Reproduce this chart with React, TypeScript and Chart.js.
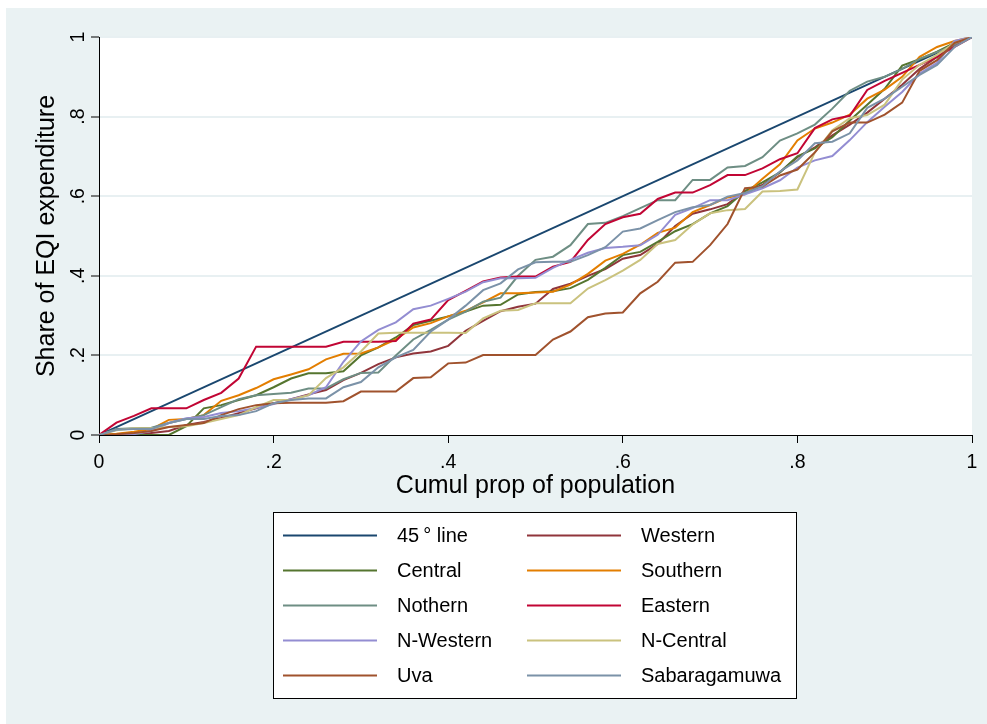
import { useEffect, useRef } from "react";
import { Chart, registerables } from "chart.js";

Chart.register(...registerables);

// Cumulative proportion of population (x grid shared by every regional curve)
const popShare = [
  0, 0.02, 0.04, 0.06, 0.08, 0.1, 0.12, 0.14, 0.16, 0.18,
  0.2, 0.22, 0.24, 0.26, 0.28, 0.3, 0.32, 0.34, 0.36, 0.38,
  0.4, 0.42, 0.44, 0.46, 0.48, 0.5, 0.52, 0.54, 0.56, 0.58,
  0.6, 0.62, 0.64, 0.66, 0.68, 0.7, 0.72, 0.74, 0.76, 0.78,
  0.8, 0.82, 0.84, 0.86, 0.88, 0.9, 0.92, 0.94, 0.96, 0.98, 1,
];

// Line of equality
const equalityX = [0, 1];
const equalityY = [0, 1];

// Cumulative share of EQI expenditure by province
const western = [
  0, 0, 0, 0.005, 0.01, 0.025, 0.033, 0.043, 0.055, 0.067,
  0.08, 0.09, 0.102, 0.113, 0.138, 0.156, 0.178, 0.195, 0.205, 0.21,
  0.224, 0.262, 0.287, 0.311, 0.322, 0.33, 0.367, 0.38, 0.4, 0.417,
  0.443, 0.452, 0.48, 0.525, 0.556, 0.567, 0.58, 0.613, 0.628, 0.66,
  0.698, 0.723, 0.753, 0.78, 0.81, 0.845, 0.88, 0.92, 0.95, 0.98, 1,
];
const central = [
  0, 0, 0, 0, 0, 0.022, 0.067, 0.075, 0.088, 0.1,
  0.12, 0.142, 0.155, 0.155, 0.16, 0.2, 0.22, 0.245, 0.276, 0.287,
  0.298, 0.31, 0.325, 0.327, 0.353, 0.359, 0.361, 0.369, 0.39, 0.42,
  0.452, 0.46, 0.485, 0.512, 0.53, 0.557, 0.575, 0.613, 0.635, 0.66,
  0.7, 0.72, 0.748, 0.79, 0.83, 0.87, 0.928, 0.944, 0.963, 0.985, 1,
];
const southern = [
  0, 0.003, 0.008, 0.015, 0.038, 0.04, 0.05, 0.086, 0.1, 0.118,
  0.14, 0.152, 0.165, 0.19, 0.204, 0.205, 0.22, 0.24, 0.27, 0.281,
  0.298, 0.312, 0.333, 0.356, 0.356, 0.358, 0.36, 0.378, 0.405, 0.438,
  0.455, 0.478, 0.508, 0.521, 0.56, 0.578, 0.597, 0.605, 0.644, 0.68,
  0.74, 0.77, 0.785, 0.805, 0.845, 0.868, 0.9, 0.95, 0.975, 0.99, 1,
];
const nothern = [
  0, 0.015, 0.017, 0.018, 0.03, 0.04, 0.05, 0.07, 0.09, 0.1,
  0.103, 0.106, 0.117, 0.117, 0.14, 0.156, 0.157, 0.2, 0.24, 0.264,
  0.29, 0.31, 0.335, 0.345, 0.4, 0.44, 0.448, 0.477, 0.53, 0.533,
  0.55, 0.57, 0.59, 0.59, 0.641, 0.641, 0.672, 0.676, 0.698, 0.74,
  0.758, 0.78, 0.82, 0.865, 0.888, 0.9, 0.92, 0.945, 0.962, 0.98, 1,
];
const eastern = [
  0, 0.031, 0.048, 0.067, 0.067, 0.067, 0.088, 0.106, 0.142, 0.222,
  0.222, 0.222, 0.222, 0.222, 0.234, 0.234, 0.234, 0.236, 0.28, 0.29,
  0.339, 0.362, 0.386, 0.396, 0.398, 0.398, 0.423, 0.435, 0.49, 0.53,
  0.547, 0.556, 0.593, 0.609, 0.609, 0.628, 0.653, 0.653, 0.67, 0.693,
  0.708, 0.771, 0.793, 0.802, 0.867, 0.89, 0.91, 0.93, 0.95, 0.975, 1,
];
const nWestern = [
  0, 0, 0.002, 0.01, 0.03, 0.042, 0.045, 0.055, 0.06, 0.068,
  0.078, 0.09, 0.1, 0.12, 0.184, 0.235, 0.264, 0.283, 0.316, 0.325,
  0.342, 0.36, 0.384, 0.394, 0.394, 0.395, 0.42, 0.44, 0.458, 0.47,
  0.473, 0.477, 0.503, 0.553, 0.57, 0.59, 0.59, 0.605, 0.62, 0.64,
  0.672, 0.69, 0.701, 0.741, 0.786, 0.825, 0.862, 0.908, 0.935, 0.99, 1,
];
const nCentral = [
  0, 0.012, 0.017, 0.017, 0.02, 0.022, 0.03, 0.04, 0.05, 0.07,
  0.088, 0.088, 0.1, 0.143, 0.17, 0.21, 0.255, 0.257, 0.257, 0.257,
  0.257, 0.256, 0.293, 0.312, 0.314, 0.331, 0.331, 0.331, 0.368, 0.389,
  0.413, 0.44, 0.48, 0.49, 0.529, 0.557, 0.565, 0.568, 0.612, 0.613,
  0.617, 0.71, 0.766, 0.796, 0.804, 0.83, 0.893, 0.93, 0.955, 0.985, 1,
];
const uva = [
  0, 0.002, 0.005, 0.01, 0.02, 0.025, 0.03, 0.05, 0.065, 0.075,
  0.08, 0.081, 0.081, 0.081, 0.085, 0.109, 0.109, 0.109, 0.143, 0.145,
  0.18, 0.182, 0.201, 0.201, 0.201, 0.201, 0.24, 0.26, 0.296, 0.305,
  0.308, 0.356, 0.385, 0.433, 0.435, 0.477, 0.53, 0.62, 0.624, 0.652,
  0.667, 0.71, 0.763, 0.785, 0.785, 0.805, 0.835, 0.915, 0.942, 0.985, 1,
];
const sabaragamuwa = [
  0, 0.013, 0.015, 0.015, 0.03, 0.04, 0.04, 0.048, 0.05, 0.06,
  0.08, 0.088, 0.092, 0.092, 0.12, 0.133, 0.17, 0.195, 0.214, 0.26,
  0.29, 0.325, 0.364, 0.381, 0.416, 0.434, 0.435, 0.435, 0.452, 0.472,
  0.511, 0.519, 0.54, 0.56, 0.572, 0.578, 0.599, 0.608, 0.625, 0.662,
  0.69, 0.733, 0.737, 0.758, 0.822, 0.845, 0.875, 0.905, 0.93, 0.975, 1,
];

const seriesLabels = [
  "45\u2009° line", "Western", "Central", "Southern", "Nothern",
  "Eastern", "N-Western", "N-Central", "Uva", "Sabaragamuwa",
];
const seriesValues = [
  equalityY, western, central, southern, nothern,
  eastern, nWestern, nCentral, uva, sabaragamuwa,
];
const seriesColors = [
  "#1a476f", "#90353b", "#55752f", "#e37e00", "#6e8e84",
  "#c10534", "#938dd2", "#cac27e", "#a0522d", "#7b92a8",
];

const xTicks = [0, 0.2, 0.4, 0.6, 0.8, 1];
const yTicks = [0, 0.2, 0.4, 0.6, 0.8, 1];

const FONT = '"Liberation Sans", Arial, Helvetica, sans-serif';
const PAGE_BG = "rgb(234,242,243)";
const GRID = "rgb(232,240,242)";

const fmtTick = (v: number) => {
  if (v === 0) return "0";
  if (v === 1) return "1";
  return v.toFixed(1).replace(/^0/, "");
};

const plotBackground = {
  id: "plotBackground",
  beforeDraw(chart: any) {
    const { ctx, chartArea } = chart;
    ctx.save();
    ctx.fillStyle = "#ffffff";
    ctx.fillRect(chartArea.left, chartArea.top, chartArea.right - chartArea.left, chartArea.bottom - chartArea.top);
    ctx.restore();
  },
};

// Two-column boxed key under the plot
const keyBox = {
  id: "keyBox",
  afterDraw(chart: any) {
    const { ctx } = chart;
    const box = { left: 267, top: 504, right: 790, bottom: 690 };
    const rowTop = 527.5;
    const rowGap = 35;
    const cols = [
      { lineFrom: 277, lineTo: 371, text: 391 },
      { lineFrom: 521, lineTo: 615, text: 635 },
    ];
    ctx.save();
    ctx.fillStyle = "#ffffff";
    ctx.fillRect(box.left, box.top, box.right - box.left, box.bottom - box.top);
    ctx.strokeStyle = "#000000";
    ctx.lineWidth = 1;
    ctx.strokeRect(box.left + 0.5, box.top + 0.5, box.right - box.left, box.bottom - box.top);
    ctx.font = `20px ${FONT}`;
    ctx.textBaseline = "middle";
    ctx.textAlign = "left";
    chart.data.datasets.forEach((ds: any, i: number) => {
      const col = cols[i % 2];
      const y = rowTop + Math.floor(i / 2) * rowGap;
      ctx.strokeStyle = ds.borderColor;
      ctx.lineWidth = 2;
      ctx.beginPath();
      ctx.moveTo(col.lineFrom, y);
      ctx.lineTo(col.lineTo, y);
      ctx.stroke();
      ctx.fillStyle = "#000000";
      ctx.fillText(ds.label, col.text, y + 1);
    });
    ctx.restore();
  },
};

export default function App() {
  const canvasRef = useRef<HTMLCanvasElement | null>(null);

  useEffect(() => {
    if (!canvasRef.current) return;
    const datasets = seriesValues.map((vals, i) => {
      const xs = i === 0 ? equalityX : popShare;
      return {
        label: seriesLabels[i],
        data: vals.map((y, j) => ({ x: xs[j], y })),
        borderColor: seriesColors[i],
        backgroundColor: seriesColors[i],
        borderWidth: 2,
        pointRadius: 0,
        tension: 0,
        fill: false,
        order: seriesValues.length - i,
      };
    });

    const chart = new Chart(canvasRef.current, {
      type: "line",
      data: { datasets },
      options: {
        animation: false,
        responsive: false,
        maintainAspectRatio: false,
        events: [],
        layout: { padding: { left: 0, top: 29, right: 15, bottom: 216 } },
        plugins: { legend: { display: false }, tooltip: { enabled: false } },
        scales: {
          x: {
            type: "linear",
            min: 0,
            max: 1,
            afterBuildTicks: (scale: any) => {
              scale.ticks = xTicks.map((v) => ({ value: v }));
            },
            afterFit: (scale: any) => {
              scale.height = 73;
            },
            ticks: {
              autoSkip: false,
              maxRotation: 0,
              padding: 8,
              color: "#000",
              font: { family: FONT, size: 19.5 },
              callback: (v: any) => fmtTick(Number(v)),
            },
            grid: {
              drawOnChartArea: false,
              tickLength: 8,
              tickColor: "#000",
              tickWidth: 1,
            },
            border: { display: true, color: "#000", width: 1 },
            title: {
              display: true,
              text: "Cumul prop of population",
              color: "#000",
              font: { family: FONT, size: 25 },
              padding: { top: 0, bottom: 7 },
            },
          },
          y: {
            type: "linear",
            min: 0,
            max: 1,
            afterBuildTicks: (scale: any) => {
              scale.ticks = yTicks.map((v) => ({ value: v }));
            },
            afterFit: (scale: any) => {
              scale.width = 93;
            },
            ticks: {
              autoSkip: false,
              minRotation: 90,
              maxRotation: 90,
              crossAlign: "center",
              padding: 4,
              color: "#000",
              font: { family: FONT, size: 19.5 },
              callback: (v: any) => fmtTick(Number(v)),
            },
            grid: {
              color: (ctx: any) => (ctx.tick && ctx.tick.value === 0 ? "rgba(0,0,0,0)" : GRID),
              lineWidth: 2,
              tickLength: 8,
              tickColor: "#000",
              tickWidth: 1,
            },
            border: { display: true, color: "#000", width: 1 },
            title: {
              display: true,
              text: "Share of EQI expenditure",
              color: "#000",
              font: { family: FONT, size: 25 },
              padding: { top: 26, bottom: 0 },
            },
          },
        },
      } as any,
      plugins: [plotBackground, keyBox],
    });

    return () => chart.destroy();
  }, []);

  return (
    <div
      style={{
        position: "fixed",
        left: 6,
        top: 8,
        width: 981,
        height: 716,
        background: PAGE_BG,
      }}
    >
      <canvas ref={canvasRef} width={981} height={716} style={{ display: "block" }} />
    </div>
  );
}
